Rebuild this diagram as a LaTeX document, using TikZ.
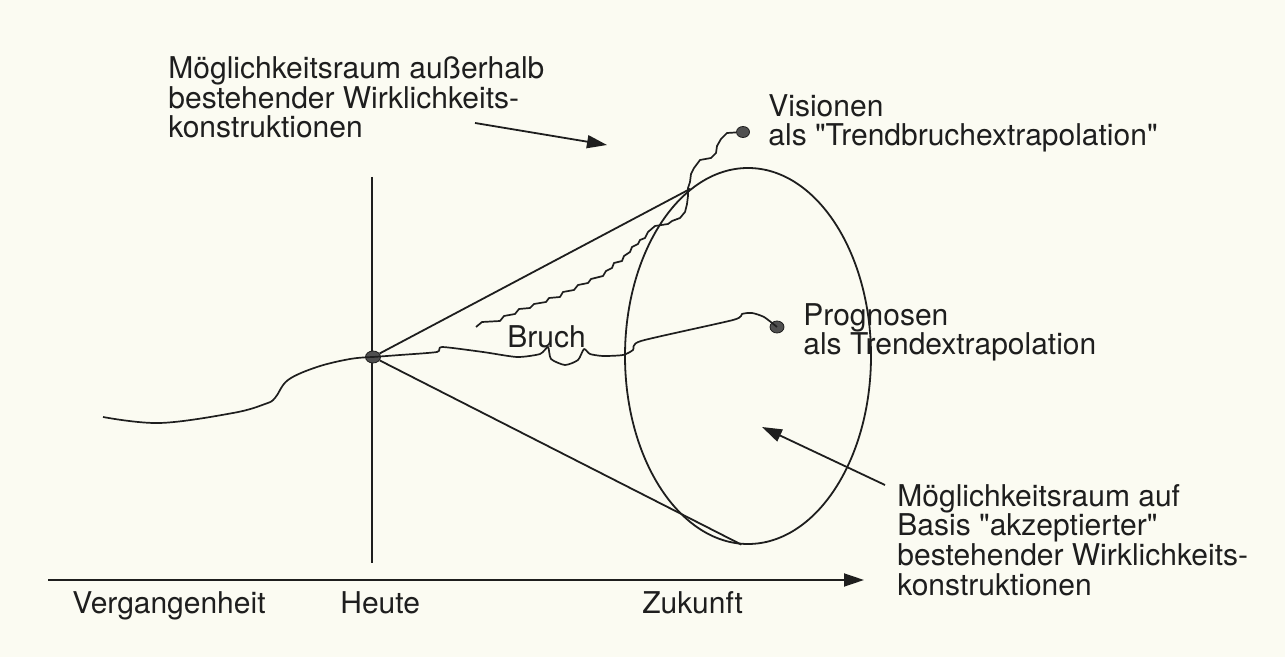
\documentclass[tikz,border=0pt]{standalone}
\usepackage{fontspec}
\setmainfont{TeX Gyre Heros}[Ligatures=TeXOff]
\usetikzlibrary{arrows.meta, shapes.geometric}
\definecolor{paper}{RGB}{251,251,242}
\definecolor{ink}{RGB}{30,30,30}
\definecolor{dotgray}{RGB}{80,80,80}

\begin{document}
\begin{tikzpicture}[x=0.5pt, y=-0.5pt,
        line/.style={draw=ink, line width=0.9pt},
        trend/.style={draw=ink, line width=0.85pt, line join=round},
        pointer/.style={draw=ink, line width=0.9pt, -{Triangle[length=10pt, width=6.5pt]}},
        dot/.style={ellipse, draw=ink, fill=dotgray, minimum width=7.5pt, minimum height=6pt, inner sep=0pt},
        space/.style={ellipse, draw=ink, line width=0.9pt, minimum width=123pt, minimum height=188pt, inner sep=0pt},
        label/.style={text=ink, font=\fontsize{15pt}{14.8pt}\selectfont, align=left, inner sep=0pt, anchor=base west}
    ]
        % Paper
        \fill[paper] (0,0) rectangle (1285,657);
        \useasboundingbox (0,0) rectangle (1285,657);

        % Time axis
        \coordinate (tStart) at (48,580);
        \coordinate (tEnd) at (864,580);
        \draw[pointer] (tStart) -- (tEnd);
        \foreach \x/\name/\txt in {72/past/Vergangenheit, 340/today/Heute, 642/future/Zukunft} {
            \node[label] (\name) at (\x, 613) {\txt};
        }

        % Today line
        \coordinate (nowTop) at (372,177);
        \coordinate (nowBottom) at (372,563);
        \draw[line] (nowTop) -- (nowBottom);

        % Space of accepted constructions
        \node[space] (raum) at (748,356) {};

        % Dots
        \node[dot] (heute) at (373,357) {};
        \node[dot, minimum width=6.5pt, minimum height=5.5pt] (vision) at (743,132) {};
        \node[dot, minimum width=7pt] (prognose) at (777,327) {};

        % Cone
        \draw[line] (heute) -- (raum.109);
        \draw[line] (heute) -- (raum.268);

        % Past
        \draw[trend] plot[smooth, tension=0.6] coordinates {(103,417) (160,423) (233,413) (265,404) (275,398) (288,380) (317,367) (350,359) (heute)};

        % Trend extrapolation with break
        \draw[trend] plot[smooth, tension=0.4] coordinates {(heute) (400,355) (437,352) (442,347) (483,352) (517,357) (540,354) (548,347)
            (551,359) (565,365) (578,360) (584,349) (590,354) (603,356) (623,355) (633,350) (641,341) (733,320) (742,314) (752,313) (764,317) (prognose)};

        % Trend break extrapolation
        \draw[trend] (476,327) -- (482,322) -- (500,321) -- (504,316) -- (515,314) -- (519,309) -- (530,308) -- (534,304)
            -- (546,302) -- (549,298) -- (560,297) -- (563,292) -- (574,290) -- (578,285) -- (588,283) -- (591,279)
            -- (603,276) -- (606,271) -- (612,268) -- (614,263) -- (622,261) -- (624,256) -- (630,252) -- (632,247)
            -- (638,244) -- (640,240) -- (645,238) -- (648,232) -- (655,226) -- (668,224) -- (672,221) -- (680,218)
            -- (685,212) -- (687,204) -- (688,196) -- (688,188) -- (690,182) -- (691,174) -- (694,168) -- (700,160)
            -- (711,158) -- (716,153) -- (717,146) -- (721,139) -- (727,133) -- (vision);

        % Labels (placed at the baseline of the last line)
        \node[label] (aussen) at (168,138) {Möglichkeitsraum außerhalb\\bestehender Wirklichkeits-\\konstruktionen};
        \node[label] (visionText) at (768,146) {Visionen\\als "Trendbruchextrapolation"};
        \node[label] (prognoseText) at (803,355) {Prognosen\\als Trendextrapolation};
        \node[label] (innen) at (897,595) {Möglichkeitsraum auf\\Basis "akzeptierter"\\bestehender Wirklichkeits-\\konstruktionen};
        \node[label] (bruch) at (507,348) {Bruch};

        % Pointers
        \coordinate (aussenFrom) at (475,123);
        \coordinate (aussenTo) at (607,145);
        \draw[pointer] (aussenFrom) -- (aussenTo);
        \coordinate (innenFrom) at (885,485);
        \coordinate (innenTo) at (762,427);
        \draw[pointer] (innenFrom) -- (innenTo);
    \end{tikzpicture}
\end{document}
